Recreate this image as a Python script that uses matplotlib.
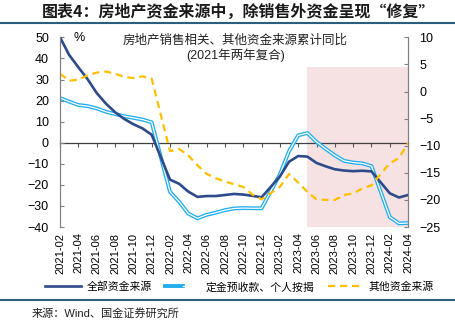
import matplotlib

matplotlib.use("Agg")
import matplotlib.pyplot as plt
import pandas as pd
from matplotlib.legend_handler import HandlerTuple
from matplotlib.lines import Line2D

plt.rcParams["font.family"] = ["Liberation Sans", "Noto Sans CJK SC", "DejaVu Sans"]

# monthly cumulative data (no January releases)
MONTHS = [f"{y}-{m:02d}" for y in (2021, 2022, 2023) for m in range(2, 13)] + [
    "2024-02", "2024-03", "2024-04"]

TOTAL = [50.0, 41.6, 35.8, 30.2, 23.6, 18.6, 14.5, 11.3, 8.8, 6.8, 3.8,
         -17.5, -19.5, -23.2, -25.7, -25.3, -25.3, -24.8, -24.3, -24.6, -25.2, -25.9,
         -16.0, -9.0, -6.3, -6.6, -9.6, -11.2, -12.6, -13.2, -13.5, -13.3, -13.6,
         -24.0, -26.0, -24.8]
DEPOSITS = [21.2, 19.5, 17.9, 17.4, 16.3, 14.7, 13.6, 12.6, 11.8, 11.0, 9.7,
            -23.3, -28.0, -33.6, -35.9, -34.2, -33.2, -32.0, -31.2, -31.0, -31.1, -31.1,
            -15.0, -4.0, 3.5, 4.6, 0.4, -2.9, -6.0, -8.6, -9.4, -9.8, -11.1,
            -35.3, -38.3, -38.1]
OTHER = [3.3, 2.0, 2.2, 3.0, 3.5, 3.7, 3.3, 2.7, 2.5, 2.8, 2.4,
         -11.0, -10.6, -11.8, -13.6, -15.2, -16.0, -16.6, -17.1, -17.6, -19.0, -19.9,
         -17.6, -15.2, -16.8, -18.5, -19.9, -20.0, -20.0, -19.1, -18.8, -17.9, -17.3,
         -13.2, -12.3, -9.5]

TICK_LABELS = ["2021-02", "2021-04", "2021-06", "2021-08", "2021-10", "2021-12",
               "2022-02", "2022-04", "2022-06", "2022-08", "2022-10", "2022-12",
               "2023-02", "2023-04", "2023-06", "2023-08", "2023-10", "2023-12",
               "2024-02", "2024-04"]
SHADE = ("2023-05", "2024-04")

LABELS = ["全部资金来源", "定金预收款、个人按揭", "其他资金来源"]
NAVY, SKY, GOLD = "#2D4A8A", "#22AEEE", "#FFBF00"


def month_pos(labels):
    p = pd.PeriodIndex(labels, freq="M")
    base = pd.Period(MONTHS[0], freq="M")
    return [(q - base).n for q in p]


x = month_pos(MONTHS)
xt = month_pos(TICK_LABELS)
xs = month_pos(SHADE)

fig = plt.figure(figsize=(4.55, 3.25), dpi=100)
ax = fig.add_axes([0.132, 0.3015, 0.765, 0.5835])
ax2 = ax.twinx()

ax.axvspan(xs[0], xs[1], ymin=0, ymax=0.845, color="#F6E2E2", lw=0, zorder=0)
ax.plot(x, TOTAL, color=NAVY, lw=1.9, zorder=3)
ax.plot(x, DEPOSITS, color=SKY, lw=2.8, zorder=2)
ax.plot(x, DEPOSITS, color="white", lw=0.9, zorder=2.5)
ax2.plot(x, OTHER, color=GOLD, lw=1.6, dashes=(3.2, 2.2))

ax.set_xlim(xt[0], xt[-1])
ax.set_ylim(-40, 50)
ax.set_yticks(range(-40, 51, 10))
ax2.set_ylim(-25, 10)
ax2.set_yticks(range(-25, 11, 5))

ax.set_xticks(xt)
ax.set_xticklabels(TICK_LABELS, rotation=90, fontsize=8)
ax.tick_params(axis="x", length=0, pad=4)
ax.tick_params(axis="y", direction="in", length=3, labelsize=9, color="#808080", pad=8)
ax2.tick_params(axis="y", direction="in", length=3, labelsize=9, color="#808080", pad=8)

for a in (ax, ax2):
    a.spines["top"].set_visible(False)
    a.spines["bottom"].set_visible(False)
    a.spines["left"].set_color("#808080")
    a.spines["right"].set_color("#808080")

# zero line with month ticks
zero = ax.secondary_xaxis(40 / 90)
zero.set_xticks(xt)
zero.set_xticklabels([])
zero.tick_params(direction="out", length=3, color="#555555")
zero.spines["bottom"].set_color("#404040")
zero.spines["bottom"].set_linewidth(0.9)

ax.text(0.04, 0.995, "%", transform=ax.transAxes, fontsize=9, va="center")
ax.text(0.503, 0.985, "房地产销售相关、其他资金来源累计同比", transform=ax.transAxes,
        fontsize=9, ha="center", va="center", color="#222222")
ax.text(0.503, 0.905, "(2021年两年复合)", transform=ax.transAxes,
        fontsize=9, ha="center", va="center", color="#222222")

h1 = Line2D([], [], color=NAVY, lw=1.9)
h2 = (Line2D([], [], color=SKY, lw=2.8), Line2D([], [], color="white", lw=0.9))
h3 = Line2D([], [], color=GOLD, lw=1.6, dashes=(3.2, 2.2))
fig.legend([h1, h2, h3], LABELS, loc="center", bbox_to_anchor=(0.527, 0.117), ncol=3,
           frameon=False, fontsize=7.8, handlelength=3.3, columnspacing=1.2,
           handletextpad=0.5, handler_map={tuple: HandlerTuple(ndivide=None, pad=0)})

fig.text(0.523, 0.963, "图表4：房地产资金来源中，除销售外资金呈现“修复”", ha="center",
         va="center", fontsize=11.5, fontweight="bold", color="#1a1a1a",
         family=["Noto Sans CJK SC"])
for yy in (0.929, 0.077):
    fig.add_artist(Line2D([0, 1], [yy, yy], transform=fig.transFigure,
                          color="#2B5F7E", lw=1.5))
fig.text(0.07, 0.037, "来源：Wind、国金证券研究所", fontsize=8, va="center",
         color="#222222")

fig.savefig("out.png", dpi=100)
